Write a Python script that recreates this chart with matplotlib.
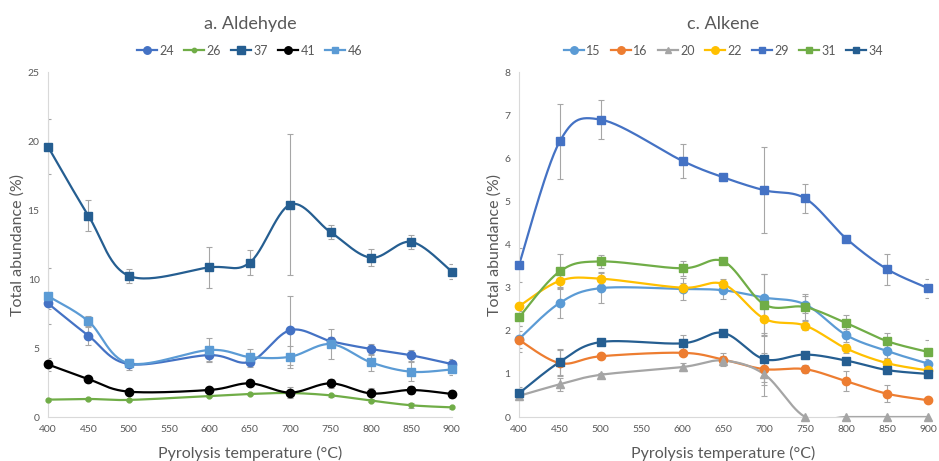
import numpy as np
import matplotlib
matplotlib.use("Agg")
import matplotlib.pyplot as plt

plt.rcParams['font.family'] = ['Lato', 'DejaVu Sans']

temps = [400, 450, 500, 600, 650, 700, 750, 800, 850, 900]
xticks = [400, 450, 500, 550, 600, 650, 700, 750, 800, 850, 900]

# a. Aldehyde
ald_24 = [8.24, 5.9, 3.84, 4.49, 4.0, 6.3, 5.5, 4.93, 4.47, 3.84]
ald_26 = [1.26, 1.31, 1.24, 1.52, 1.67, 1.74, 1.57, 1.19, 0.85, 0.7]
ald_37 = [19.6, 14.6, 10.24, 10.85, 11.2, 15.4, 13.4, 11.55, 12.7, 10.55]
ald_41 = [3.81, 2.75, 1.84, 1.96, 2.44, 1.77, 2.44, 1.71, 1.96, 1.67]
ald_46 = [8.77, 6.95, 3.9, 4.86, 4.35, 4.37, 5.29, 3.96, 3.28, 3.45]
ald_err_24 = [0.4, 0.7, 0.4, 0.4, 0.4, 2.5, 0.3, 0.4, 0.4, 0.4]
ald_err_26 = [0.1, 0.1, 0.1, 0.1, 0.1, 0.2, 0.1, 0.1, 0.2, 0.1]
ald_err_37 = [2.0, 1.1, 0.5, 1.5, 0.9, 5.1, 0.5, 0.6, 0.5, 0.55]
ald_err_41 = [0.5, 0.2, 0.2, 0.2, 0.2, 0.4, 0.3, 0.4, 0.3, 0.3]
ald_err_46 = [2.0, 0.4, 0.3, 0.9, 0.6, 0.8, 1.1, 0.6, 0.7, 0.4]

# c. Alkene
alk_15 = [1.81, 2.65, 2.99, 2.97, 2.94, 2.77, 2.61, 1.9, 1.53, 1.24]
alk_16 = [1.79, 1.25, 1.41, 1.49, 1.33, 1.11, 1.11, 0.83, 0.54, 0.39]
alk_20 = [0.49, 0.76, 0.98, 1.16, 1.31, 0.99, 0.0, 0.0, 0.0, 0.0]
alk_22 = [2.57, 3.16, 3.21, 3.0, 3.08, 2.28, 2.12, 1.59, 1.25, 1.08]
alk_29 = [3.53, 6.4, 6.9, 5.94, 5.56, 5.26, 5.07, 4.14, 3.43, 2.99]
alk_31 = [2.31, 3.38, 3.61, 3.45, 3.61, 2.61, 2.55, 2.18, 1.76, 1.51]
alk_34 = [0.55, 1.28, 1.74, 1.71, 1.95, 1.34, 1.45, 1.31, 1.09, 1.0]
alk_err_15 = [0.3, 0.35, 0.35, 0.25, 0.2, 0.55, 0.2, 0.15, 0.15, 0.1]
alk_err_16 = [0.2, 0.3, 0.05, 0.05, 0.15, 0.3, 0.1, 0.23, 0.2, 0.05]
alk_err_20 = [0.05, 0.15, 0.05, 0.1, 0.1, 0.5, 0, 0, 0, 0]
alk_err_22 = [0.1, 0.15, 0.15, 0.1, 0.12, 0.4, 0.1, 0.1, 0.1, 0.05]
alk_err_29 = [0.4, 0.87, 0.45, 0.4, 0.08, 1.0, 0.33, 0.06, 0.36, 0.22]
alk_err_31 = [0.2, 0.4, 0.15, 0.18, 0.05, 0.7, 0.3, 0.18, 0.2, 0.27]
alk_err_34 = [0.15, 0.3, 0.08, 0.2, 0.08, 0.6, 0.05, 0.05, 0.1, 0.1]


def smooth(x, y, n=30):
    # Excel-like smoothed line: Catmull-Rom through the markers
    p = np.column_stack([x, y]).astype(float)
    p = np.vstack([p[0], p, p[-1]])
    out = []
    t = np.linspace(0, 1, n)[:, None]
    for i in range(1, len(p) - 2):
        p0, p1, p2, p3 = p[i - 1], p[i], p[i + 1], p[i + 2]
        c1 = p1 + (p2 - p0) / 6
        c2 = p2 - (p3 - p1) / 6
        seg = ((1 - t) ** 3) * p1 + 3 * ((1 - t) ** 2) * t * c1 + 3 * (1 - t) * t ** 2 * c2 + t ** 3 * p2
        out.append(seg)
    out = np.vstack(out)
    return out[:, 0], out[:, 1]


def draw(ax, name, vals, err, color, marker, ms):
    ax.errorbar(temps, vals, yerr=err, fmt='none', ecolor='#A6A6A6',
                elinewidth=0.8, capsize=2, capthick=0.8, zorder=1)
    sx, sy = smooth(temps, vals)
    ax.plot(sx, sy, color=color, lw=1.6, zorder=2)
    ax.plot(temps, vals, linestyle='none', marker=marker, ms=ms, color=color, zorder=3, clip_on=False)
    # legend proxy
    ax.plot([], [], color=color, lw=1.6, marker=marker, ms=ms * 0.9, label=name)


def style(ax, title, ymax, yticks, legend_cols):
    ax.set_xlim(400, 900)
    ax.set_ylim(0, ymax)
    ax.set_xticks(xticks)
    ax.set_yticks(yticks)
    ax.tick_params(axis='both', length=0, labelsize=7.5, labelcolor='#595959', pad=6)
    for s in ['top', 'right']:
        ax.spines[s].set_visible(False)
    for s in ['left', 'bottom']:
        ax.spines[s].set_color('#D9D9D9')
        ax.spines[s].set_linewidth(0.8)
    ax.set_xlabel('Pyrolysis temperature (°C)', fontsize=11.5, color='#595959', labelpad=8)
    ax.set_ylabel('Total abundance (%)', fontsize=11.5, color='#595959', labelpad=2)
    ax.set_title(title, fontsize=13, color='#595959', pad=31)
    ax.legend(loc='lower center', bbox_to_anchor=(0.5, 1.03), ncol=legend_cols, frameon=False,
              fontsize=9, labelcolor='#595959', handlelength=1.6, handletextpad=0.2,
              columnspacing=0.8, borderaxespad=0)


fig = plt.figure(figsize=(9.39, 4.61), dpi=100)
ax1 = fig.add_axes([0.0511, 0.0954, 0.430, 0.748])
ax2 = fig.add_axes([0.5527, 0.0954, 0.4356, 0.748])

draw(ax1, '24', ald_24, ald_err_24, '#4472C4', 'o', 6)
draw(ax1, '26', ald_26, ald_err_26, '#70AD47', 'o', 3.5)
draw(ax1, '37', ald_37, ald_err_37, '#255E91', 's', 6)
draw(ax1, '41', ald_41, ald_err_41, '#000000', 'o', 6)
draw(ax1, '46', ald_46, ald_err_46, '#5B9BD5', 's', 5.5)
style(ax1, 'a. Aldehyde', 25, [0, 5, 10, 15, 20, 25], 5)

draw(ax2, '15', alk_15, alk_err_15, '#5B9BD5', 'o', 6)
draw(ax2, '16', alk_16, alk_err_16, '#ED7D31', 'o', 6)
draw(ax2, '20', alk_20, alk_err_20, '#A5A5A5', '^', 5.5)
draw(ax2, '22', alk_22, alk_err_22, '#FFC000', 'o', 6)
draw(ax2, '29', alk_29, alk_err_29, '#4472C4', 's', 5.5)
draw(ax2, '31', alk_31, alk_err_31, '#70AD47', 's', 5.5)
draw(ax2, '34', alk_34, alk_err_34, '#255E91', 's', 5.5)
style(ax2, 'c. Alkene', 8, list(range(0, 9)), 7)

fig.savefig('out.png', dpi=100, facecolor='white')
